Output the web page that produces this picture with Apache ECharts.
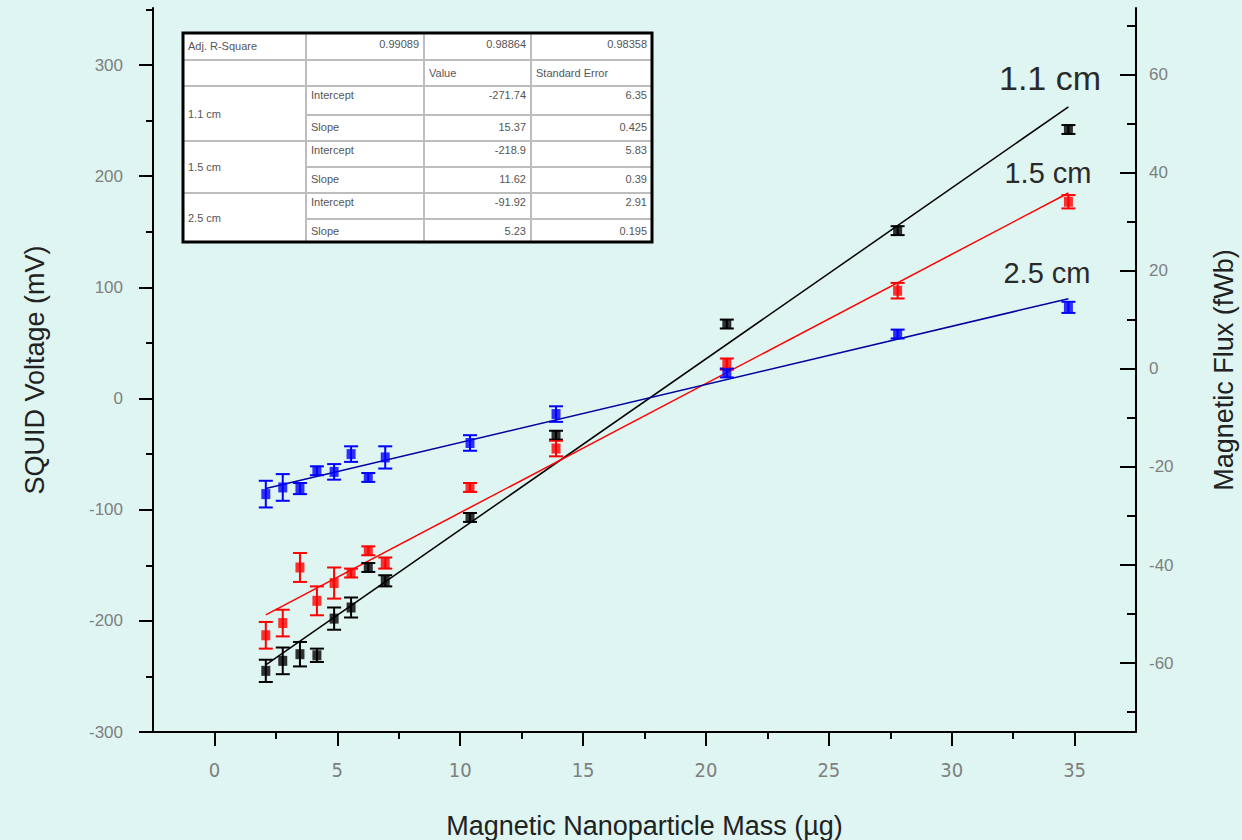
<!DOCTYPE html>
<html>
<head>
<meta charset="utf-8">
<script src="https://cdn.jsdelivr.net/npm/echarts@6/dist/echarts.min.js"></script>
<style>
  html, body { margin: 0; padding: 0; background: #def5f1; }
  #main { width: 1242px; height: 840px; }
</style>
</head>
<body>
<div id="main"></div>
<script>
// sample masses (µg)
const massUg = [2.09, 2.78, 3.48, 4.17, 4.87, 5.56, 6.26, 6.95, 10.4, 13.9, 20.85, 27.8, 34.75];

// SQUID voltage (mV) and error for each distance
const voltage11 = [-245, -236, -230, -231, -198, -188, -152, -164, -107, -33, 67, 151, 242];
const error11 = [10, 12, 11, 6, 10, 9, 4, 5, 4, 4, 4, 4, 4];
const voltage15 = [-213, -202, -152, -182, -166, -157, -137, -148, -80, -45, 31, 97, 177];
const error15 = [12, 12, 13, 13, 14, 4, 4, 5, 4, 7, 5, 7, 6];
const voltage25 = [-86, -80, -81, -65, -66, -50, -71, -53, -40, -14, 23, 58, 82];
const error25 = [12, 12, 5, 4, 7, 7, 4, 10, 7, 7, 4, 4, 5];

// linear fit line ends
const fitX = [2.09, 34.75];
const fit11 = [-239.6, 262.4];
const fit15 = [-194.6, 184.9];
const fit25 = [-81.0, 89.8];

// ticks
const xMajor = [0, 5, 10, 15, 20, 25, 30, 35];
const xMinor = [2.5, 7.5, 12.5, 17.5, 22.5, 27.5, 32.5];
const yMajor = [-300, -200, -100, 0, 100, 200, 300];
const yMinor = [-250, -150, -50, 50, 150, 250, 350];
const fluxMajor = [-60, -40, -20, 0, 20, 40, 60];
const fluxMinor = [-70, -50, -30, -10, 10, 30, 50, 70];

// fit table
const fitNames = ["1.1 cm", "1.5 cm", "2.5 cm"];
const rSquare = ["0.99089", "0.98864", "0.98358"];
const tableHead = ["Value", "Standard Error"];
const interceptValues = ["-271.74", "-218.9", "-91.92"];
const interceptErrors = ["6.35", "5.83", "2.91"];
const slopeValues = ["15.37", "11.62", "5.23"];
const slopeErrors = ["0.425", "0.39", "0.195"];

const colors = ["#000000", "#ff0000", "#0000ff"];
const lineColors = ["#000000", "#ff0000", "#0000a0"];

const chart = echarts.init(document.getElementById("main"), null, { renderer: "svg" });

function errorBars(name, ys, errs, color) {
  return {
    type: "custom",
    name: name,
    data: massUg.map((x, i) => [x, ys[i] - errs[i], ys[i] + errs[i]]),
    encode: { x: 0, y: [1, 2] },
    z: 3,
    silent: true,
    renderItem: function (params, api) {
      const top = api.coord([api.value(0), api.value(2)]);
      const bot = api.coord([api.value(0), api.value(1)]);
      const half = 7;
      const style = { stroke: color, lineWidth: 2 };
      return {
        type: "group",
        children: [
          { type: "line", shape: { x1: top[0], y1: top[1], x2: bot[0], y2: bot[1] }, style: style },
          { type: "line", shape: { x1: top[0] - half, y1: top[1], x2: top[0] + half, y2: top[1] }, style: style },
          { type: "line", shape: { x1: bot[0] - half, y1: bot[1], x2: bot[0] + half, y2: bot[1] }, style: style },
        ],
      };
    },
  };
}

function points(name, ys, color) {
  return {
    type: "scatter",
    name: name,
    data: massUg.map((x, i) => [x, ys[i]]),
    symbol: "rect",
    symbolSize: [9, 10],
    itemStyle: { color: color },
    z: 4,
  };
}

function fitLine(name, ys, color) {
  return {
    type: "line",
    name: name + " fit",
    data: fitX.map((x, i) => [x, ys[i]]),
    showSymbol: false,
    lineStyle: { color: color, width: 1.5 },
    z: 2,
  };
}

// table layout
const colX = [183, 306, 424, 531, 652];
const rowY = [33, 60, 86, 115, 141, 167, 193, 219, 242];
const tableFont = { fontSize: 11, fontFamily: "Liberation Sans, Arial, sans-serif", fill: "#555" };
const tableParts = [];
tableParts.push({
  type: "rect",
  shape: { x: colX[0], y: rowY[0], width: colX[4] - colX[0], height: rowY[8] - rowY[0] },
  style: { fill: "#ffffff", stroke: null },
});
// horizontal grid lines
for (let r = 1; r < 8; r++) {
  const startCol = (r === 3 || r === 5 || r === 7) ? 1 : 0;
  tableParts.push({
    type: "line",
    shape: { x1: colX[startCol], y1: rowY[r], x2: colX[4], y2: rowY[r] },
    style: { stroke: "#bdbdbd", lineWidth: 2 },
  });
}
for (let c = 1; c < 4; c++) {
  tableParts.push({
    type: "line",
    shape: { x1: colX[c], y1: rowY[0], x2: colX[c], y2: rowY[8] },
    style: { stroke: "#bdbdbd", lineWidth: 2 },
  });
}
tableParts.push({
  type: "rect",
  shape: { x: colX[0], y: rowY[0], width: colX[4] - colX[0], height: rowY[8] - rowY[0] },
  style: { fill: null, stroke: "#000", lineWidth: 3 },
});
function cellText(text, col, row, align, dy) {
  const x = align === "right" ? colX[col + 1] - 5 : colX[col] + 5;
  tableParts.push({
    type: "text",
    x: x,
    y: rowY[row] + (dy || 11),
    style: Object.assign({ text: text, align: align, verticalAlign: "middle" }, tableFont),
  });
}
cellText("Adj. R-Square", 0, 0, "left", 13);
rSquare.forEach((v, i) => cellText(v, i + 1, 0, "right", 11));
cellText(tableHead[0], 2, 1, "left", 13);
cellText(tableHead[1], 3, 1, "left", 13);
fitNames.forEach((n, i) => {
  const r = 2 + i * 2;
  tableParts.push({
    type: "text",
    x: colX[0] + 5,
    y: (rowY[r] + rowY[r + 2]) / 2,
    style: Object.assign({ text: n, align: "left", verticalAlign: "middle" }, tableFont),
  });
  cellText("Intercept", 1, r, "left", 9);
  cellText(interceptValues[i], 2, r, "right", 9);
  cellText(interceptErrors[i], 3, r, "right", 9);
  cellText("Slope", 1, r + 1, "left", 12);
  cellText(slopeValues[i], 2, r + 1, "right", 12);
  cellText(slopeErrors[i], 3, r + 1, "right", 12);
});

const tickFont = { color: "#808080", fontSize: 17, fontFamily: "Liberation Sans, Arial, sans-serif" };
const nameFont = { color: "#222", fontSize: 27, fontFamily: "Liberation Sans, Arial, sans-serif" };
const axisLine = { show: true, onZero: false, lineStyle: { color: "#000", width: 2 } };

const option = {
  backgroundColor: "#def5f1",
  animation: false,
  grid: { left: 153, right: 106, top: 8, bottom: 108, outerBoundsMode: "none" },
  xAxis: [
    {
      type: "value", min: -2.5, max: 37.5, position: "bottom",
      axisLine: axisLine,
      axisTick: { show: true, customValues: xMajor, length: 14, lineStyle: { color: "#000", width: 2 } },
      axisLabel: {
        customValues: xMajor, margin: 28, color: "#808080", fontSize: 20,
        fontFamily: "Liberation Sans Narrow, DejaVu Sans Condensed, sans-serif",
      },
      splitLine: { show: false },
      name: "Magnetic Nanoparticle Mass (µg)",
      nameLocation: "middle",
      nameGap: 80,
      nameTextStyle: nameFont,
    },
    {
      type: "value", min: -2.5, max: 37.5, position: "bottom",
      axisLine: { show: false, onZero: false },
      axisTick: { show: true, customValues: xMinor, length: 7, lineStyle: { color: "#000", width: 2 } },
      axisLabel: { show: false },
      splitLine: { show: false },
    },
  ],
  yAxis: [
    {
      type: "value", min: -300, max: 351.3, position: "left",
      axisLine: axisLine,
      axisTick: { show: true, customValues: yMajor, length: 14, lineStyle: { color: "#000", width: 2 } },
      axisLabel: Object.assign({ customValues: yMajor, margin: 30 }, tickFont),
      splitLine: { show: false },
      name: "SQUID Voltage (mV)",
      nameLocation: "middle",
      nameRotate: 90,
      nameGap: 105,
      nameTextStyle: nameFont,
    },
    {
      type: "value", min: -300, max: 351.3, position: "left",
      axisLine: { show: false, onZero: false },
      axisTick: { show: true, customValues: yMinor, length: 7, lineStyle: { color: "#000", width: 2 } },
      axisLabel: { show: false },
      splitLine: { show: false },
    },
    {
      type: "value", min: -74.08, max: 73.67, position: "right",
      axisLine: axisLine,
      axisTick: { show: true, inside: true, customValues: fluxMajor, length: 16, lineStyle: { color: "#000", width: 2 } },
      axisLabel: Object.assign({ customValues: fluxMajor, margin: 13 }, tickFont),
      splitLine: { show: false },
      name: "Magnetic Flux (fWb)",
      nameLocation: "middle",
      nameRotate: 90,
      nameGap: 74,
      nameTextStyle: nameFont,
    },
    {
      type: "value", min: -74.08, max: 73.67, position: "right",
      axisLine: { show: false, onZero: false },
      axisTick: { show: true, inside: true, customValues: fluxMinor, length: 9, lineStyle: { color: "#000", width: 2 } },
      axisLabel: { show: false },
      splitLine: { show: false },
    },
  ],
  series: [
    fitLine(fitNames[0], fit11, lineColors[0]),
    fitLine(fitNames[1], fit15, lineColors[1]),
    fitLine(fitNames[2], fit25, lineColors[2]),
    errorBars(fitNames[0], voltage11, error11, colors[0]),
    errorBars(fitNames[1], voltage15, error15, colors[1]),
    errorBars(fitNames[2], voltage25, error25, colors[2]),
    points(fitNames[0], voltage11, colors[0]),
    points(fitNames[1], voltage15, colors[1]),
    points(fitNames[2], voltage25, colors[2]),
  ],
  graphic: [
    { type: "group", children: tableParts, z: 10 },
    { type: "text", x: 1050, y: 78, style: { text: fitNames[0], align: "center", verticalAlign: "middle", fontSize: 34, fill: "#2a2a2a", fontFamily: "Liberation Sans, Arial, sans-serif" } },
    { type: "text", x: 1048, y: 173, style: { text: fitNames[1], align: "center", verticalAlign: "middle", fontSize: 29, fill: "#2a2a2a", fontFamily: "Liberation Sans, Arial, sans-serif" } },
    { type: "text", x: 1047, y: 273, style: { text: fitNames[2], align: "center", verticalAlign: "middle", fontSize: 29, fill: "#2a2a2a", fontFamily: "Liberation Sans, Arial, sans-serif" } },
  ],
};

chart.setOption(option);
window.addEventListener("resize", () => {
  chart.resize();
});
</script>
</body>
</html>
